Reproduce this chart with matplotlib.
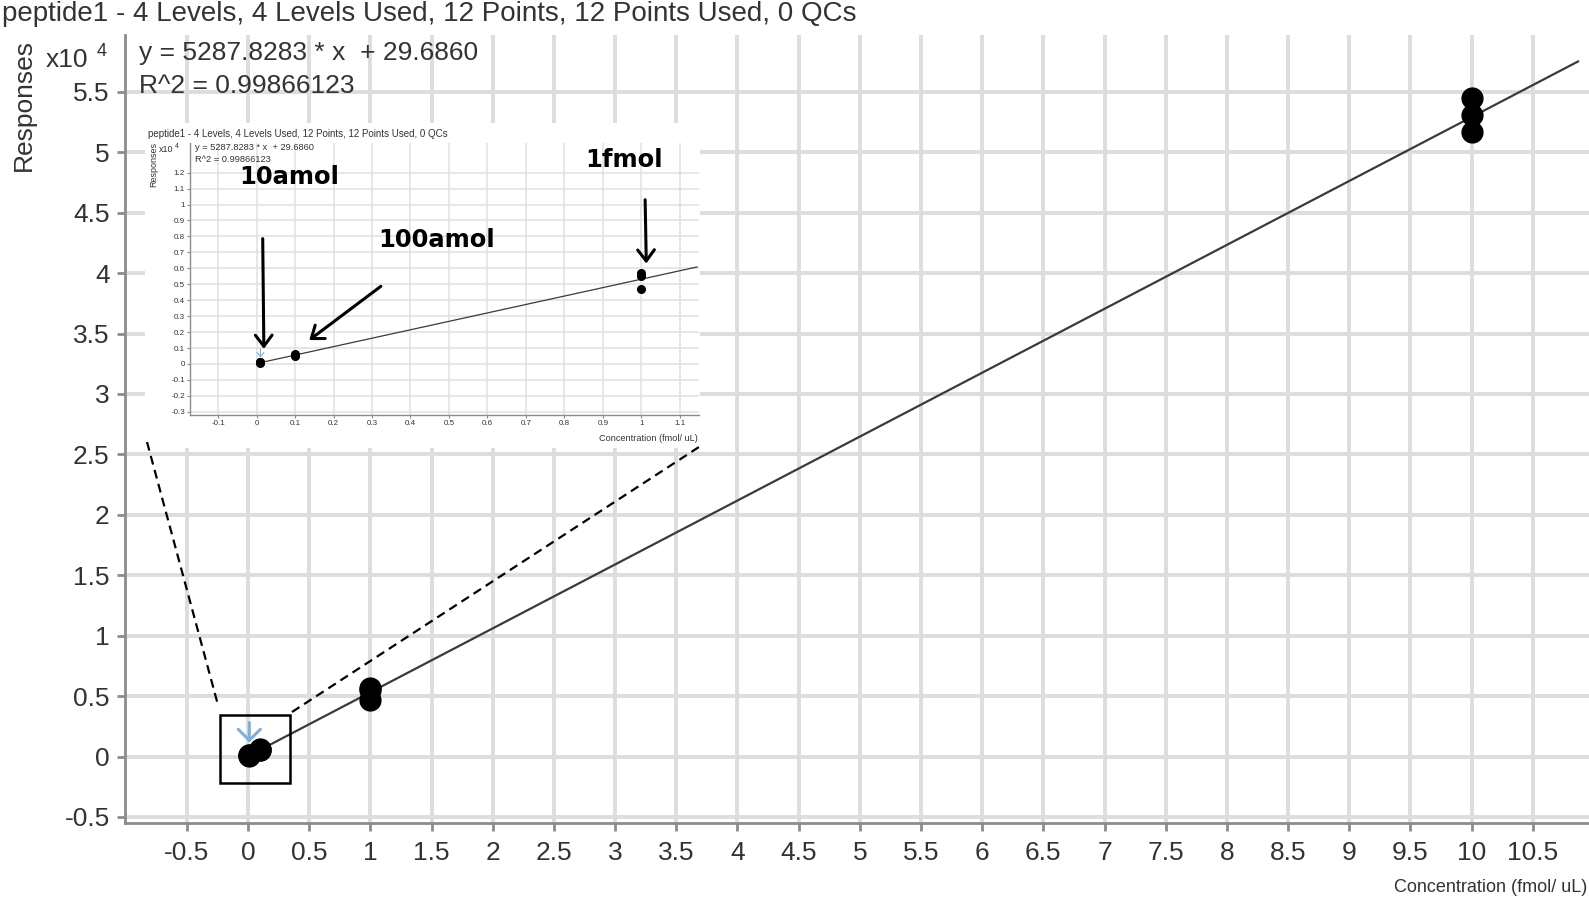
import numpy as np
import matplotlib
matplotlib.use("Agg")
import matplotlib.pyplot as plt
from matplotlib import font_manager
from matplotlib.patches import Rectangle
from matplotlib.lines import Line2D

plt.rcParams['font.family'] = 'Liberation Sans'

# calibration data (responses in units of 1e4)
conc = [0.01, 0.01, 0.01, 0.1, 0.1, 0.1, 1, 1, 1, 10, 10, 10]
resp = [0.012, 0.008, 0.010, 0.060, 0.050, 0.055, 0.57, 0.55, 0.47, 5.45, 5.31, 5.17]
slope = 5287.8283
intercept = 29.6860
r2 = 0.99866123

title = 'peptide1 - 4 Levels, 4 Levels Used, 12 Points, 12 Points Used, 0 QCs'
eq_text = f'y = {slope:.4f} * x  + {intercept:.4f}'
r2_text = f'R^2 = {r2:.8f}'
xlabel = 'Concentration (fmol/ uL)'

main_xticks = np.arange(-0.5, 10.51, 0.5)
main_yticks = np.arange(-0.5, 5.51, 0.5)
inset_xticks = np.arange(-0.1, 1.101, 0.1)
inset_yticks = np.arange(-0.3, 1.201, 0.1)

# annotation labels: text, position and arrow (tail, head) in inset data coords
labels = ['10amol', '100amol', '1fmol']
label_pos = [(0.085, 1.173), (0.469, 0.778), (0.955, 1.28)]
arrow_tail = [(0.016, 0.786), (0.323, 0.487), (1.010, 1.03)]
arrow_head = [(0.019, 0.095), (0.137, 0.150), (1.013, 0.63)]

W, H = 1589, 906
fig = plt.figure(figsize=(W / 100, H / 100), dpi=100)


def fx(px):
    return px / W


def fy(py):
    return 1 - py / H


def fmt(v):
    return f'{round(v, 2) + 0:g}'


gray = '#8c8c8c'
txt = '#333333'

# ---- main chart
ax = fig.add_axes([fx(125), fy(823), fx(W) - fx(125), fy(35) - fy(823)])
ax.set_xlim(-1.006, 10.96)
ax.set_ylim(-0.55, 5.97)
ax.set_xticks(main_xticks)
ax.set_xticklabels([fmt(v) for v in main_xticks])
ax.set_yticks(main_yticks)
ax.set_yticklabels([fmt(v) for v in main_yticks])
ax.tick_params(length=6, width=2, color=gray, labelsize=19, labelcolor=txt)
ax.tick_params(axis='x', pad=7)
ax.tick_params(axis='y', pad=5)
for s in ['top', 'right']:
    ax.spines[s].set_visible(False)
for s in ['left', 'bottom']:
    ax.spines[s].set_color(gray)
    ax.spines[s].set_linewidth(2)
ax.grid(True, color='#dddddd', lw=2.8)
ax.set_axisbelow(True)

fit_x = np.array([0.01, 10.87])
ax.plot(fit_x, (slope * fit_x + intercept) / 1e4, color='#3a3a3a', lw=1.6, zorder=3)
ax.plot(conc, resp, 'o', color='black', ms=15, zorder=4)
ax.annotate('', xy=(0.01, 0.116), xytext=(0.01, 0.28),
            arrowprops=dict(arrowstyle='->,head_width=0.8,head_length=0.8',
                            color='#7eb0dc', lw=2.2, shrinkA=0, shrinkB=0))
ax.add_patch(Rectangle((-0.229, -0.215), 0.572, 0.555, fill=False,
                       ec='black', lw=1.8, zorder=5))

fig.text(fx(2), fy(14), title, ha='left', va='center', fontsize=20, color=txt)
fig.text(fx(24), fy(105), 'Responses', rotation=90, ha='center', va='center',
         fontsize=19, color=txt)
fig.text(fx(88), fy(60), 'x10', ha='right', va='center', fontsize=19, color=txt)
fig.text(fx(97), fy(52), '4', ha='left', va='center', fontsize=13, color=txt)
fig.text(fx(139), fy(53), eq_text, ha='left', va='center', fontsize=19, color=txt)
fig.text(fx(139), fy(86), r2_text, ha='left', va='center', fontsize=19, color=txt)

names = {f.name for f in font_manager.fontManager.ttflist}
if 'Liberation Sans Narrow' in names:
    fig.text(fx(1587), fy(888), xlabel, ha='right', va='center', fontsize=15.5,
             color=txt, family='Liberation Sans Narrow')
else:
    fig.text(fx(1587), fy(888), xlabel, ha='right', va='center', fontsize=13, color=txt)

# ---- inset (zoom of the low range)
fig.add_artist(Rectangle((fx(145), fy(448)), fx(700) - fx(145), fy(123) - fy(448),
                         transform=fig.transFigure, facecolor='white',
                         edgecolor='none', zorder=1))
ins = fig.add_axes([fx(190), fy(415), fx(699) - fx(190), fy(143) - fy(415)])
ins.set_zorder(2)
ins.set_xlim(-0.173, 1.15)
ins.set_ylim(-0.32, 1.386)
ins.set_xticks(inset_xticks)
ins.set_xticklabels([fmt(v) for v in inset_xticks])
ins.set_yticks(inset_yticks)
ins.set_yticklabels([fmt(v) for v in inset_yticks])
ins.tick_params(length=2, width=0.8, color=gray, labelsize=5.8, labelcolor=txt, pad=1.5)
for s in ['top', 'right']:
    ins.spines[s].set_visible(False)
for s in ['left', 'bottom']:
    ins.spines[s].set_color(gray)
    ins.spines[s].set_linewidth(1)
ins.grid(True, color='#e0e0e0', lw=1.1)
ins.set_axisbelow(True)

fit_xi = np.array([0.01, 1.145])
ins.plot(fit_xi, (slope * fit_xi + intercept) / 1e4, color='#3a3a3a', lw=0.9, zorder=3)
ins.plot(conc, resp, 'o', color='black', ms=5.5, zorder=4)
ins.annotate('', xy=(0.01, 0.04), xytext=(0.01, 0.095),
             arrowprops=dict(arrowstyle='->,head_width=0.25,head_length=0.3',
                             color='#7eb0dc', lw=0.8, shrinkA=0, shrinkB=0))

for lab, pos, tail, head in zip(labels, label_pos, arrow_tail, arrow_head):
    ins.text(pos[0], pos[1], lab, ha='center', va='center', fontsize=17.5,
             fontweight='bold', family='DejaVu Sans', color='black', clip_on=False)
    ins.annotate('', xy=head, xytext=tail,
                 arrowprops=dict(arrowstyle='->,head_width=0.6,head_length=0.8',
                                 color='black', lw=2.2, shrinkA=0, shrinkB=0))

fig.text(fx(148), fy(134), title, ha='left', va='center', fontsize=7, color=txt, zorder=4)
fig.text(fx(154), fy(165), 'Responses', rotation=90, ha='center', va='center',
         fontsize=6.5, color=txt, zorder=4)
fig.text(fx(173), fy(149), 'x10', ha='right', va='center', fontsize=6.5, color=txt, zorder=4)
fig.text(fx(175), fy(147), '4', ha='left', va='center', fontsize=5, color=txt, zorder=4)
fig.text(fx(195), fy(148), eq_text, ha='left', va='center', fontsize=6.7, color=txt, zorder=4)
fig.text(fx(195), fy(159), r2_text, ha='left', va='center', fontsize=6.7, color=txt, zorder=4)
fig.text(fx(698), fy(439), xlabel, ha='right', va='center', fontsize=6.6, color=txt, zorder=4)

# dashed zoom connectors
fig.add_artist(Line2D([fx(147), fx(218)], [fy(442), fy(705)], transform=fig.transFigure,
                      color='black', lw=1.6, ls=(0, (4, 2.5)), zorder=3))
fig.add_artist(Line2D([fx(292), fx(699)], [fy(712), fy(447)], transform=fig.transFigure,
                      color='black', lw=1.6, ls=(0, (4, 2.5)), zorder=3))

fig.savefig('out.png', dpi=100)
